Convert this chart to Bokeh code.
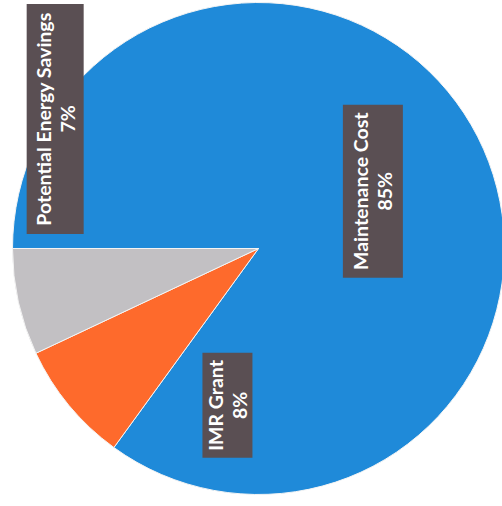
import math
from bokeh.plotting import figure
from bokeh.models import Range1d, ColumnDataSource
from bokeh.core.properties import value
from bokeh.embed import file_html
from bokeh.resources import INLINE

# ---- data ----
categories = ["Maintenance Cost", "IMR Grant", "Potential Energy Savings"]
values = [85, 8, 7]
pct_labels = ["85%", "8%", "7%"]
colors = ["#1f8ad9", "#fe6a2c", "#c2c0c3"]

# ---- layout ----
W, H = 502, 506
p = figure(width=W, height=H, output_backend="svg", toolbar_location=None,
           x_range=Range1d(0, W), y_range=Range1d(0, H),
           min_border=0, outline_line_color=None)
p.axis.visible = False
p.grid.visible = False
p.background_fill_color = "white"

cx, cy, r = 258, 258, 246
start = math.pi  # clockwise from 9 o'clock (chart rotated)
total = sum(values)
starts, ends = [], []
acc = 0
for v in values:
    starts.append(start - 2 * math.pi * acc / total)
    acc += v
    ends.append(start - 2 * math.pi * acc / total)

src = ColumnDataSource(dict(cat=categories, val=values, s=starts, e=ends, c=colors))
p.wedge(x=cx, y=cy, radius=r, start_angle="s", end_angle="e", direction="clock",
        fill_color="c", line_color="#f4f4f4", line_width=1, source=src)

# label boxes (polar placement relative to the pie centre, plus box sizes)
label_pos = [(26.6, 0.52), (258.8, 0.65), (147.5, 0.98)]  # (deg, radius frac)
box_w = [60, 50, 57]
box_h = [173, 105, 230]
bx, by, l1x, l2x = [], [], [], []
for (ang, fr), bw in zip(label_pos, box_w):
    x = cx + fr * r * math.cos(math.radians(ang))
    y = cy + fr * r * math.sin(math.radians(ang))
    bx.append(x)
    by.append(y)
    l1x.append(x - 12)
    l2x.append(x + 12)

p.rect(x=bx, y=by, width=box_w, height=box_h, fill_color="#5a4f53",
       line_color=None)
p.text(x=l1x, y=by, text=categories, angle=math.pi / 2, text_align="center",
       text_baseline="middle", text_color="white", text_font=value("Lato"),
       text_font_style="bold", text_font_size="19.5px")
p.text(x=l2x, y=by, text=pct_labels, angle=math.pi / 2, text_align="center",
       text_baseline="middle", text_color="white", text_font=value("Lato"),
       text_font_style="bold", text_font_size="19.5px")

open("out.html", "w").write(file_html(p, INLINE))
